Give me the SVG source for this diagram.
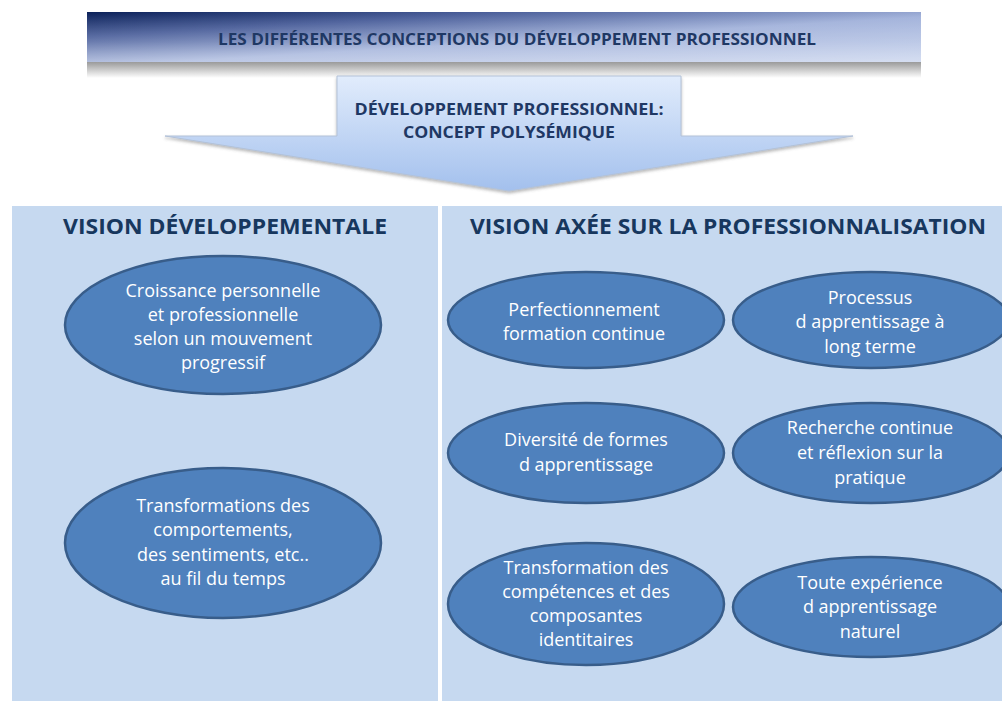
<svg xmlns="http://www.w3.org/2000/svg" width="1002" height="702" viewBox="0 0 1002 702">
  <defs>
    <linearGradient id="bannerGrad" x1="0" y1="0" x2="1" y2="1">
      <stop offset="0" stop-color="#0b2159"/>
      <stop offset="0.25" stop-color="#4c609b"/>
      <stop offset="0.55" stop-color="#a3b3db"/>
      <stop offset="1" stop-color="#c5d1ec"/>
    </linearGradient>
    <linearGradient id="bannerShine" x1="0" y1="0" x2="0" y2="1">
      <stop offset="0" stop-color="#ffffff" stop-opacity="0"/>
      <stop offset="0.6" stop-color="#ffffff" stop-opacity="0.1"/>
      <stop offset="1" stop-color="#ffffff" stop-opacity="0.28"/>
    </linearGradient>
    <linearGradient id="shadowGrad" x1="0" y1="0" x2="0" y2="1">
      <stop offset="0" stop-color="#9a9a9a"/>
      <stop offset="1" stop-color="#ffffff"/>
    </linearGradient>
    <linearGradient id="arrowGrad" x1="0" y1="0" x2="0" y2="1">
      <stop offset="0" stop-color="#e1ecfc"/>
      <stop offset="1" stop-color="#a3c0ed"/>
    </linearGradient>
    <filter id="arrowShadow" x="-5%" y="-10%" width="110%" height="130%">
      <feDropShadow dx="0" dy="2" stdDeviation="1.5" flood-color="#666666" flood-opacity="0.45"/>
    </filter>
    <style>
      .title { font-family: "Open Sans", "Liberation Sans", sans-serif; font-weight: bold; fill: #1f3864; text-anchor: middle; }
      .head { font-family: "Open Sans", "Liberation Sans", sans-serif; font-weight: bold; font-size: 21px; fill: #17375e; text-anchor: middle; }
      .panel { fill: #c6d9f0; }
      .oval { fill: #4f81bd; stroke: #385d8a; stroke-width: 2.5; }
      .otext { font-family: "Open Sans", "Liberation Sans", sans-serif; font-size: 18px; fill: #ffffff; text-anchor: middle; }
    </style>
  </defs>

  <rect width="1002" height="702" fill="#ffffff"/>

  <!-- Top banner -->
  <g id="banner">
    <rect x="87" y="62" width="834" height="16" fill="url(#shadowGrad)"/>
    <rect x="87" y="12" width="834" height="50" fill="url(#bannerGrad)"/>
    <rect x="87" y="12" width="834" height="50" fill="url(#bannerShine)"/>
    <text class="title" x="517" y="45" font-size="15.5" textLength="598" lengthAdjust="spacingAndGlyphs">LES DIFFÉRENTES CONCEPTIONS DU DÉVELOPPEMENT PROFESSIONNEL</text>
  </g>

  <!-- Central arrow -->
  <g id="arrow">
    <path d="M337,76 H681 V136 H853 L509,191 L165,136 H337 Z" fill="url(#arrowGrad)" stroke="#b3c2d8" stroke-width="1" filter="url(#arrowShadow)"/>
    <text class="title" x="509" y="115" font-size="15.5" textLength="309" lengthAdjust="spacingAndGlyphs">DÉVELOPPEMENT PROFESSIONNEL:</text>
    <text class="title" x="509" y="138" font-size="15.5" textLength="212" lengthAdjust="spacingAndGlyphs">CONCEPT POLYSÉMIQUE</text>
  </g>

  <!-- Panels -->
  <g id="panel-left">
    <rect class="panel" x="12" y="206" width="426" height="495"/>
    <text class="head" x="225" y="234" textLength="324" lengthAdjust="spacingAndGlyphs">VISION DÉVELOPPEMENTALE</text>
  </g>
  <g id="panel-right">
    <rect class="panel" x="442" y="206" width="560" height="495"/>
    <text class="head" x="728" y="234" textLength="516" lengthAdjust="spacingAndGlyphs">VISION AXÉE SUR LA PROFESSIONNALISATION</text>
  </g>

  <!-- Left ellipses -->
  <g id="node-croissance">
    <ellipse class="oval" cx="223" cy="325" rx="158" ry="69"/>
    <text class="otext" x="223" y="297">Croissance personnelle</text>
    <text class="otext" x="223" y="321">et professionnelle</text>
    <text class="otext" x="223" y="345">selon un mouvement</text>
    <text class="otext" x="223" y="369">progressif</text>
  </g>
  <g id="node-transformations">
    <ellipse class="oval" cx="223" cy="543" rx="158" ry="75"/>
    <text class="otext" x="223" y="512">Transformations des</text>
    <text class="otext" x="223" y="536">comportements,</text>
    <text class="otext" x="223" y="561">des sentiments, etc..</text>
    <text class="otext" x="223" y="585">au fil du temps</text>
  </g>

  <!-- Right ellipses -->
  <g id="node-perfectionnement">
    <ellipse class="oval" cx="586" cy="320" rx="138" ry="48"/>
    <text class="otext" x="584" y="316">Perfectionnement</text>
    <text class="otext" x="584" y="340">formation continue</text>
  </g>
  <g id="node-processus">
    <ellipse class="oval" cx="871" cy="320" rx="138" ry="48"/>
    <text class="otext" x="870" y="304">Processus</text>
    <text class="otext" x="870" y="328">d apprentissage à</text>
    <text class="otext" x="870" y="353">long terme</text>
  </g>
  <g id="node-diversite">
    <ellipse class="oval" cx="586" cy="453" rx="138" ry="50"/>
    <text class="otext" x="586" y="446">Diversité de formes</text>
    <text class="otext" x="586" y="471">d apprentissage</text>
  </g>
  <g id="node-recherche">
    <ellipse class="oval" cx="871" cy="453" rx="138" ry="50"/>
    <text class="otext" x="870" y="434">Recherche continue</text>
    <text class="otext" x="870" y="459">et réflexion sur la</text>
    <text class="otext" x="870" y="484">pratique</text>
  </g>
  <g id="node-transformation">
    <ellipse class="oval" cx="586" cy="604" rx="138" ry="61"/>
    <text class="otext" x="586" y="574">Transformation des</text>
    <text class="otext" x="586" y="598">compétences et des</text>
    <text class="otext" x="586" y="622">composantes</text>
    <text class="otext" x="586" y="646">identitaires</text>
  </g>
  <g id="node-experience">
    <ellipse class="oval" cx="871" cy="607" rx="138" ry="50"/>
    <text class="otext" x="870" y="589">Toute expérience</text>
    <text class="otext" x="870" y="613">d apprentissage</text>
    <text class="otext" x="870" y="638">naturel</text>
  </g>

  <g id="connectors"/>
</svg>
